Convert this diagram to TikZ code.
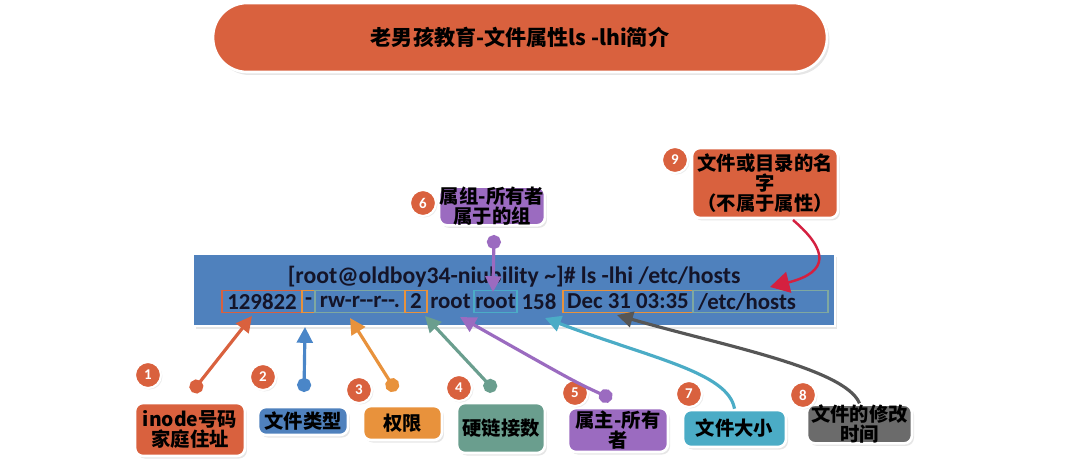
\documentclass[tikz,border=0pt]{standalone}
\usepackage{fontspec}
\setmainfont{Carlito}
\newfontfamily\cjk{Noto Sans CJK SC}
\usetikzlibrary{arrows.meta,shadows}
\definecolor{tomato}{HTML}{D9613E}
\definecolor{cmdblue}{HTML}{4F81BD}
\definecolor{skyblue}{HTML}{4A86C8}
\definecolor{amber}{HTML}{E8923C}
\definecolor{sage}{HTML}{6A9E8E}
\definecolor{lilac}{HTML}{9B6BC0}
\definecolor{aqua}{HTML}{4BACC6}
\definecolor{slate}{HTML}{6B6B6B}
\definecolor{crimson}{HTML}{D42040}
\definecolor{faint}{HTML}{7FA8A0}
\definecolor{ink}{HTML}{141428}
\tikzset{
  callout/.style={draw=white, line width=1.5pt, rounded corners=0.16cm, inner sep=0pt, align=center,
    font=\cjk\bfseries\fontsize{11}{11.5}\selectfont,
    drop shadow={opacity=0.2, shadow xshift=0.04cm, shadow yshift=-0.05cm}},
  num/.style={circle, fill=tomato, draw=white, line width=1.2pt, minimum size=0.52cm, inner sep=0pt,
    text=white, font=\bfseries\fontsize{8.5}{8.5}\selectfont,
    drop shadow={opacity=0.15, shadow xshift=0.03cm, shadow yshift=-0.03cm}},
  seg/.style={inner sep=0pt, minimum height=0.44cm, line width=0.9pt, text=ink},
  link/.style={line width=1.8pt, -{Triangle[length=9pt,width=9pt]}},
  dotlink/.style={line width=1.8pt, {Circle[length=8pt]}-{Triangle[length=9pt,width=9pt]}}
}
\begin{document}
\begin{tikzpicture}[x=0.02cm,y=-0.02cm]
  \useasboundingbox (0,0) rectangle (1091,460);

  \node[fill=tomato, draw=white, line width=1.5pt, rounded corners=0.68cm, minimum width=12.28cm, minimum height=1.38cm,
    drop shadow={opacity=0.2, shadow xshift=0.05cm, shadow yshift=-0.06cm},
    font=\cjk\bfseries\fontsize{12}{12}\selectfont] (title) at (520,37.5) {老男孩教育-文件属性ls -lhi简介};

  \node[fill=cmdblue, draw=white, line width=1.5pt, minimum width=12.84cm, minimum height=1.44cm,
    drop shadow={opacity=0.2, shadow xshift=0.05cm, shadow yshift=-0.06cm}] (screen) at (514,290) {};
  \node[text=ink, font=\bfseries\fontsize{13.5}{14}\selectfont, inner sep=0pt] (cmd) at (514,277)
    {[root@oldboy34-niubility \textasciitilde]\# ls -lhi /etc/hosts};

  \begin{scope}[font=\bfseries\fontsize{13}{13.5}\selectfont]
    \node[seg, draw=tomato, minimum width=1.6cm] (s1) at (262,301.5) {129822};
    \node[seg, draw=amber, minimum width=0.26cm] (s2) at (308.5,301.5) {-};
    \node[seg, draw=faint, minimum width=1.8cm] (s3) at (360,301.5) {rw-r-{}-r-{}-.};
    \node[seg, draw=amber, minimum width=0.44cm] (s4) at (416,301.5) {2};
    \node[seg, minimum width=0.94cm] (s5) at (450.5,301.5) {root};
    \node[seg, draw=aqua, minimum width=0.86cm] (s6) at (495.5,301.5) {root};
    \node[seg, minimum width=0.8cm] (s7) at (539,301.5) {158};
    \node[seg, draw=amber, minimum width=2.6cm] (s8) at (628,301.5) {Dec 31 03:35};
    \node[seg, draw=faint, inner xsep=0.1cm, text width=2.5cm, align=left] (s9) at (760.5,301.5) {/etc/hosts};
  \end{scope}

  \node[callout, fill=tomato, minimum width=2.2cm, minimum height=1.06cm] (b1) at (190,429.5) {inode号码\\家庭住址};
  \node[callout, fill=cmdblue, minimum width=1.8cm, minimum height=0.56cm] (b2) at (303,421) {文件类型};
  \node[callout, fill=amber, minimum width=1.58cm, minimum height=0.68cm] (b3) at (402.5,423) {权限};
  \node[callout, fill=sage, minimum width=1.76cm, minimum height=1cm] (b4) at (501,428) {硬链接数};
  \node[callout, fill=lilac, minimum width=2cm, minimum height=0.88cm] (b5) at (618,430) {属主-所有\\者};
  \node[callout, fill=lilac, minimum width=2.12cm, minimum height=0.76cm] (b6) at (492,206) {属组-所有者\\属于的组};
  \node[callout, fill=aqua, minimum width=2.06cm, minimum height=0.74cm] (b7) at (734.5,428.5) {文件大小};
  \node[callout, fill=slate, minimum width=2.1cm, minimum height=0.76cm] (b8) at (859.5,424) {文件的修改\\时间};
  \node[callout, fill=tomato, minimum width=2.92cm, minimum height=1.4cm] (b9) at (765,183) {文件或目录的名\\字\\（不属于属性）};

  \node[num] (n1) at (148,375) {1};
  \node[num] (n2) at (263,377) {2};
  \node[num] (n3) at (359,390) {3};
  \node[num] (n4) at (459,388) {4};
  \node[num] (n5) at (575,393) {5};
  \node[num] (n6) at (423,203) {6};
  \node[num] (n7) at (689,394) {7};
  \node[num] (n8) at (803,395) {8};
  \node[num] (n9) at (675,160) {9};

  \coordinate (d1) at (192,392);
  \coordinate (d2) at (304,392);
  \coordinate (d3) at (396,391);
  \coordinate (d4) at (495,391);
  \coordinate (d5) at (612,399);
  \coordinate (d6) at (494,235);
  \coordinate (d9) at (793,220);
  \coordinate (t1) at (252,316);
  \coordinate (t2) at (305,327);
  \coordinate (t3) at (350,318);
  \coordinate (t4) at (425,316);
  \coordinate (t5) at (460,317);
  \coordinate (t6) at (493,292);
  \coordinate (t7) at (545,318);
  \coordinate (t8) at (617,315);
  \coordinate (t9) at (770,287);

  \draw[dotlink, tomato] (d1) -- (t1);
  \draw[dotlink, skyblue] (d2) -- (t2);
  \draw[dotlink, amber] (d3) -- (t3);
  \draw[dotlink, sage] (d4) -- (t4);
  \draw[dotlink, lilac] (d5) .. controls (575,382) .. (t5);
  \draw[dotlink, lilac] (d6) -- (t6);
  \draw[link, aqua] (b7.north) .. controls (728,372) and (650,358) .. (t7);
  \draw[link, slate!80!black] (b8.north) .. controls (845,368) and (720,345) .. (t8);
  \draw[line width=1.4pt, crimson, -{Triangle[length=11pt,width=12pt]}] (d9) .. controls (828,250) and (830,272) .. (t9);
\end{tikzpicture}
\end{document}
